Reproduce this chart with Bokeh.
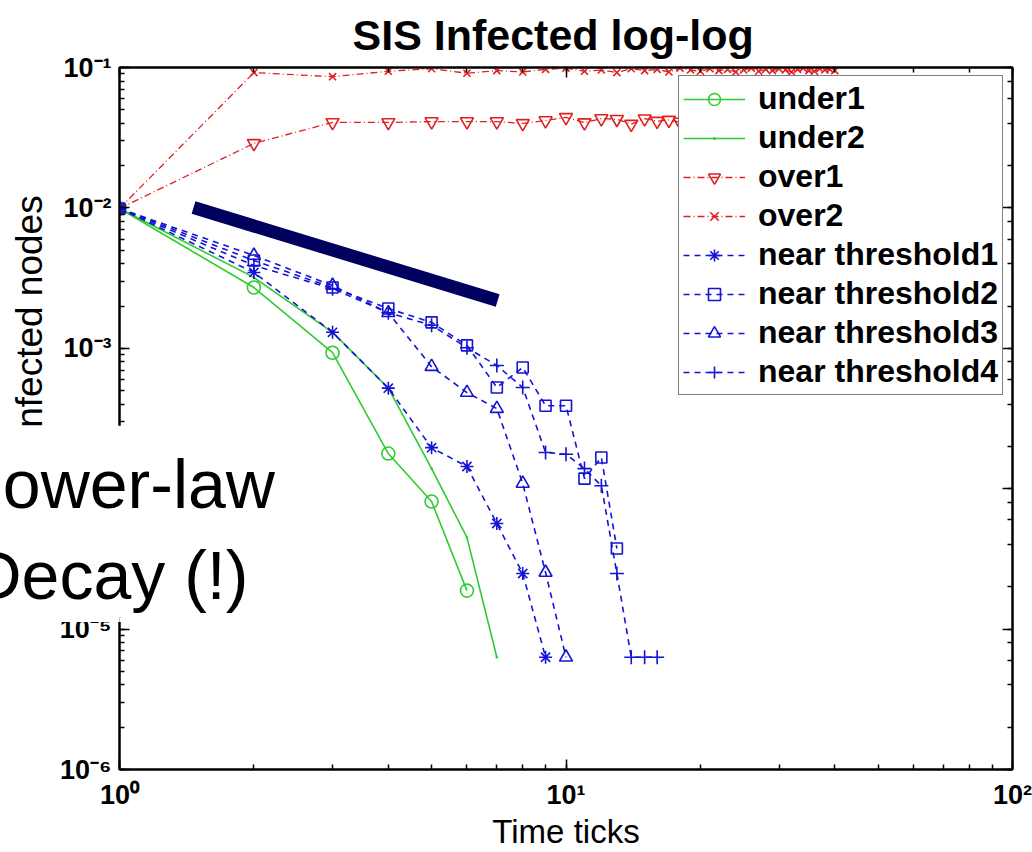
from bokeh.plotting import figure
from bokeh.layouts import column
from bokeh.models import (LogAxis, LogTicker, CustomJSTickFormatter, Legend, LegendItem,
                          Title, Range1d)
from bokeh.embed import file_html
from bokeh.resources import INLINE

# ---------------- data ----------------
t_under1 = [1, 2, 3, 4, 5, 6]
under1 = [0.0099, 0.00271, 0.00093, 0.000178, 0.000081, 0.0000188]

t_under2 = [1, 2, 3, 4, 5, 6, 7]
under2 = [0.0099, 0.0032, 0.0013, 0.00052, 0.000139, 0.000045, 0.0000063]

t_over = list(range(1, 41))
over1 = [0.0099, 0.0288, 0.0406, 0.0406, 0.0412, 0.0412, 0.0412, 0.0400, 0.0419, 0.0441,
         0.0405, 0.0433, 0.0428, 0.0395, 0.0432, 0.0415, 0.0422, 0.0409, 0.0426, 0.0417,
         0.0431, 0.0404, 0.0419, 0.0427, 0.0411, 0.0423, 0.0416, 0.0433, 0.0408, 0.0421,
         0.0425, 0.0413, 0.0429, 0.0418, 0.0407, 0.0424, 0.0415, 0.0430, 0.0412, 0.0420]
over2 = [0.0099, 0.092, 0.086, 0.094, 0.098, 0.091, 0.095, 0.093, 0.097, 0.099,
         0.094, 0.096, 0.092, 0.098, 0.095, 0.097, 0.093, 0.099, 0.096, 0.094,
         0.098, 0.095, 0.097, 0.093, 0.096, 0.099, 0.094, 0.097, 0.095, 0.098,
         0.096, 0.093, 0.097, 0.099, 0.095, 0.094, 0.098, 0.096, 0.097, 0.095]

t_th1 = [1, 2, 3, 4, 5, 6, 7, 8, 9]
th1 = [0.0099, 0.00347, 0.0013, 0.00052, 0.000196, 0.000144, 0.0000565, 0.0000249, 0.0000063]

t_th2 = [1, 2, 3, 4, 5, 6, 7, 8, 9, 10, 11, 12, 13]
th2 = [0.0099, 0.00422, 0.00271, 0.00192, 0.00153, 0.00105, 0.000526, 0.00073, 0.00039,
       0.00039, 0.000118, 0.000167, 0.0000375]

t_th3 = [1, 2, 3, 4, 5, 6, 7, 8, 9, 10]
th3 = [0.0099, 0.00458, 0.0028, 0.00179, 0.00074, 0.000484, 0.000372, 0.000109, 0.0000253,
       0.0000063]

t_th4 = [1, 2, 3, 4, 5, 6, 7, 8, 9, 10, 11, 12, 13, 14, 15, 16]
th4 = [0.0099, 0.00389, 0.00266, 0.00179, 0.00146, 0.00101, 0.000755, 0.000526, 0.000181,
       0.000176, 0.000139, 0.000105, 0.0000249, 0.0000063, 0.0000063, 0.0000063]

# hand-drawn "power-law" slope bar (data coordinates)
slope_x = [1.465, 7.03]
slope_y = [0.01007, 0.00219]

series_names = ["under1", "under2", "over1", "over2",
                "near threshold1", "near threshold2", "near threshold3", "near threshold4"]

GREEN = "#2fcc2f"
RED = "#e02020"
BLUE = "#1414d2"
FONT = "Liberation Sans"

p = figure(width=1032, height=852, x_axis_type="log", y_axis_type="log",
           x_range=Range1d(1, 100), y_range=Range1d(1e-6, 1e-1),
           output_backend="svg", toolbar_location=None,
           min_border_left=119, min_border_right=20, min_border_top=67, min_border_bottom=83,
           background_fill_color="white", border_fill_color="white")
p.grid.visible = False
p.outline_line_color = "black"
p.outline_line_width = 2

p.title.text = "SIS Infected log-log"
p.title.align = "left"
p.title.offset = 233
p.title.vertical_align = "top"
p.title.text_font = FONT
p.title.text_font_size = "43px"
p.title.text_font_style = "bold"
p.title.text_color = "black"
p.title.standoff = 14

sup_code = """
const e = Math.round(Math.log10(tick));
const sup = {"-":"\u207b","0":"\u2070","1":"\u00b9","2":"\u00b2","3":"\u00b3","4":"\u2074",
             "5":"\u2075","6":"\u2076","7":"\u2077","8":"\u2078","9":"\u2079"};
let s = "";
for (const c of String(e)) s += sup[c];
return "10" + s;
"""


def style_axis(ax, labels=True):
    ax.axis_line_color = "black"
    ax.axis_line_width = 2
    ax.major_tick_in = 10
    ax.major_tick_out = 0
    ax.minor_tick_in = 5
    ax.minor_tick_out = 0
    ax.major_tick_line_width = 1.5
    ax.minor_tick_line_width = 1.5
    if labels:
        ax.formatter = CustomJSTickFormatter(code=sup_code)
        ax.major_label_text_font = FONT
        ax.major_label_text_font_size = "27px"
        ax.major_label_text_font_style = "bold"
        ax.major_label_text_color = "black"
        ax.axis_label_text_font = FONT
        ax.axis_label_text_font_style = "normal"
        ax.axis_label_text_color = "black"
    else:
        ax.formatter = CustomJSTickFormatter(code="return '';")
        ax.major_label_text_font_size = "2px"
        ax.major_label_standoff = 0


xa = p.xaxis[0]
ya = p.yaxis[0]
style_axis(xa)
style_axis(ya)
xa.axis_label = "Time ticks"
ya.axis_label = "\u00a0\u00a0Fraction of infected nodes"
xa.major_label_standoff = 10
xa.axis_label_standoff = 0
xa.axis_label_text_font_size = "33px"
ya.axis_label_text_font_size = "37px"
ya.major_label_standoff = 8
ya.axis_label_standoff = 6

top_ax = LogAxis(ticker=LogTicker())
right_ax = LogAxis(ticker=LogTicker())
style_axis(top_ax, labels=False)
style_axis(right_ax, labels=False)
p.add_layout(top_ax, "above")
p.add_layout(right_ax, "right")

# ---------------- series ----------------
items = []


def add_series(name, xs, ys, color, dash, marker, size, lw=1.6):
    r_line = p.line(xs, ys, line_color=color, line_width=lw, line_dash=dash)
    r_mark = p.scatter(xs, ys, marker=marker, size=size, line_color=color,
                       fill_color=None, line_width=1.6)
    items.append(LegendItem(label=name, renderers=[r_line, r_mark]))


add_series(series_names[0], t_under1, under1, GREEN, "solid", "circle", 13)
add_series(series_names[1], t_under2, under2, GREEN, "solid", "dot", 10)
add_series(series_names[2], t_over, over1, RED, "7 3 1 3", "inverted_triangle", 13, lw=1.3)
add_series(series_names[3], t_over, over2, RED, "7 3 1 3", "x", 10, lw=1.3)
add_series(series_names[4], t_th1, th1, BLUE, "6 5", "asterisk", 13)
add_series(series_names[5], t_th2, th2, BLUE, "6 5", "square", 11)
add_series(series_names[6], t_th3, th3, BLUE, "6 5", "triangle", 13)
add_series(series_names[7], t_th4, th4, BLUE, "6 5", "cross", 14)

legend = Legend(items=items, location=(559, 374))
legend.border_line_color = "black"
legend.border_line_width = 1.5
legend.background_fill_color = "white"
legend.background_fill_alpha = 1.0
legend.label_text_font = FONT
legend.label_text_font_size = "32px"
legend.label_text_font_style = "bold"
legend.label_text_color = "black"
legend.glyph_width = 62
legend.glyph_height = 30
legend.label_height = 30
legend.label_standoff = 13
legend.spacing = 2
legend.padding = 4
legend.margin = 0
p.add_layout(legend, "center")

# slope bar drawn on the slide
p.line(slope_x, slope_y, line_color="#00005e", line_width=13, line_cap="butt")

# ---------------- slide text box laid over the chart's left edge ----------------
note_fig = figure(width=275, height=197, x_range=Range1d(0, 1), y_range=Range1d(0, 1),
                  output_backend="svg", toolbar_location=None, title=None,
                  min_border_left=119, min_border_right=17, min_border_top=0,
                  min_border_bottom=0,
                  x_axis_location=None, y_axis_location=None,
                  background_fill_color="white", border_fill_color="white")
note_fig.outline_line_color = None
note_fig.grid.visible = False
note_fig.styles = {"position": "absolute", "left": "0px", "top": "425px", "z-index": "10"}

line2 = Title(text="Decay (!)", align="left", offset=-147, standoff=9,
              text_font=FONT, text_font_size="68px", text_font_style="normal",
              text_color="black")
line1 = Title(text="Power-law", align="left", offset=-162, standoff=17,
              text_font=FONT, text_font_size="68px", text_font_style="normal",
              text_color="black")
spacer = Title(text="\u00a0", align="left", standoff=6, text_font=FONT,
               text_font_size="2px", text_color="white")
note_fig.add_layout(line2, "above")
note_fig.add_layout(line1, "above")
note_fig.add_layout(spacer, "above")

root = column(p, note_fig)
open("out.html", "w").write(file_html(root, INLINE))
